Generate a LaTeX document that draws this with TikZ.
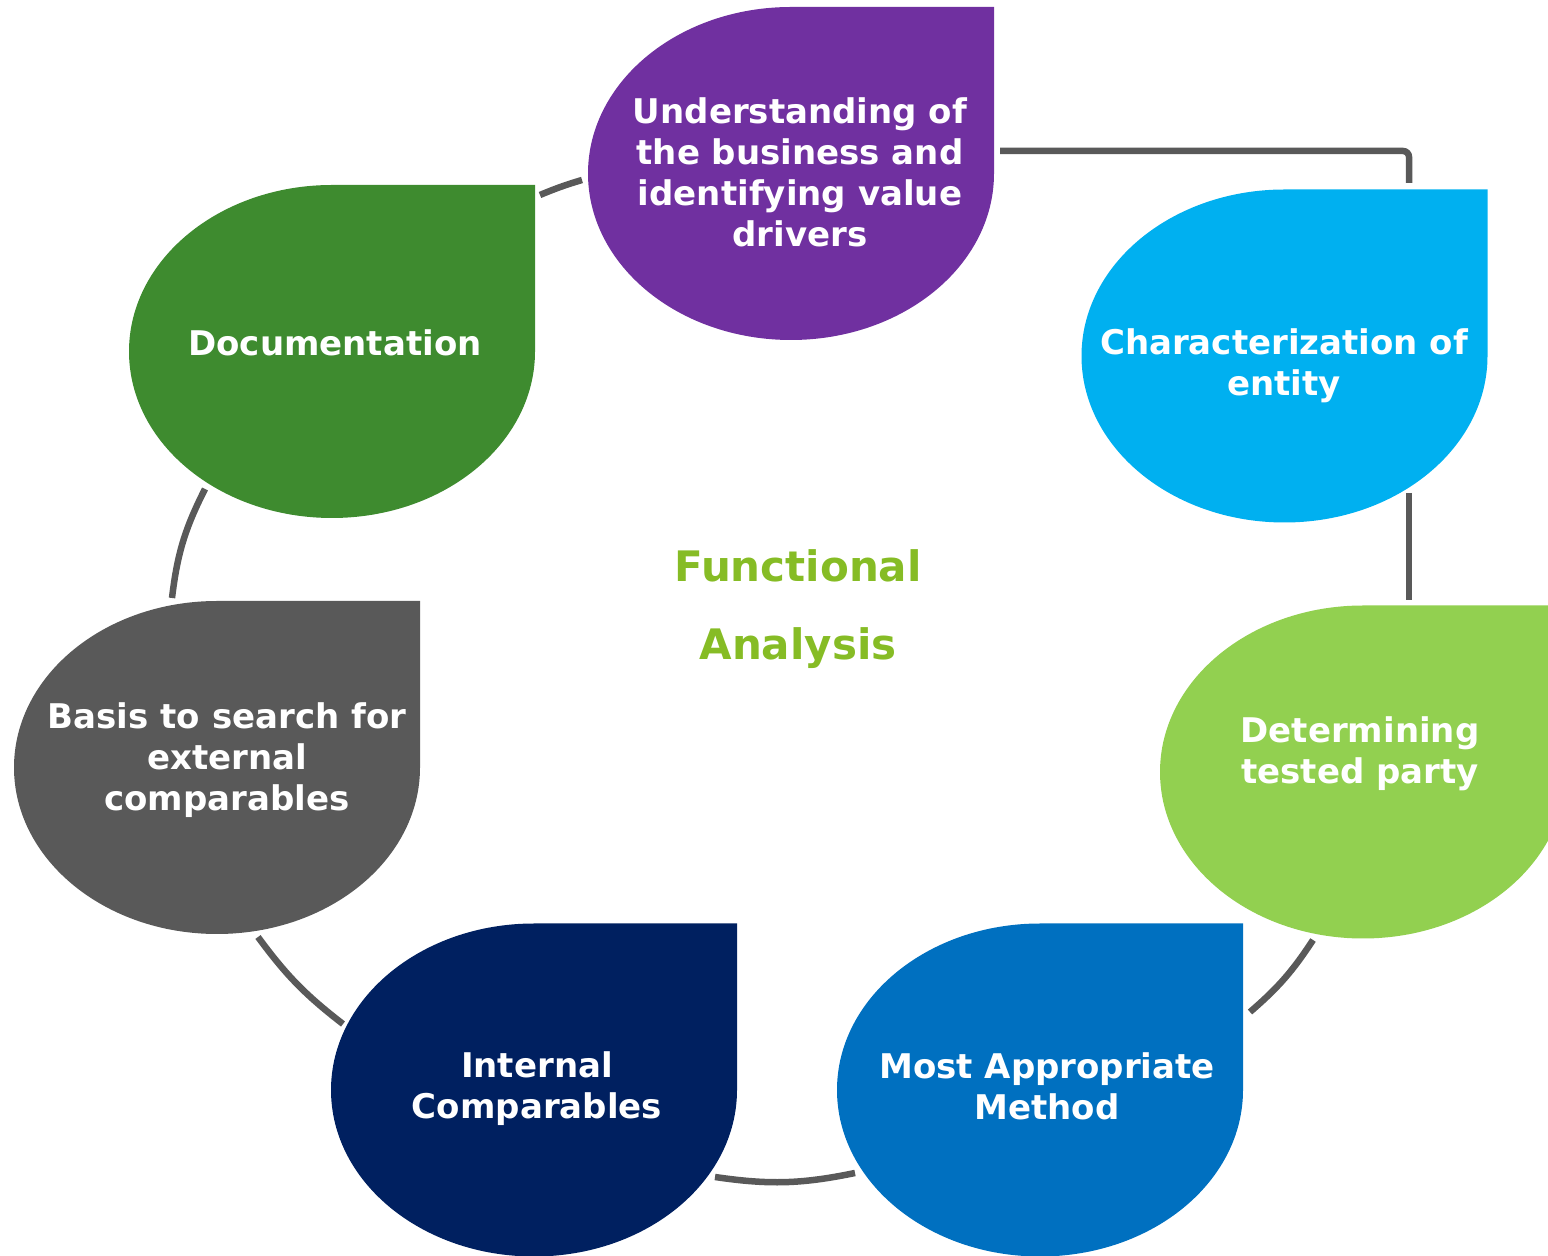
\documentclass[tikz,border=0pt]{standalone}
\usepackage{fontspec}
\setmainfont{DejaVu Sans}
\definecolor{purp}{HTML}{7030A0}
\definecolor{cyanb}{HTML}{00B0F0}
\definecolor{limeg}{HTML}{92D050}
\definecolor{blueb}{HTML}{0070C0}
\definecolor{navyb}{HTML}{002060}
\definecolor{greyb}{HTML}{595959}
\definecolor{docg}{HTML}{3E8B2F}
\definecolor{titleg}{HTML}{86BC25}
\definecolor{linkg}{HTML}{595959}
\tikzset{leaf/.pic={\fill[pic actions] (0,166.5) -- (203,166.5) -- (203,0)
  arc[start angle=0, end angle=-270, x radius=203pt, y radius=166.5pt] -- cycle;}}
\begin{document}
\begin{tikzpicture}[x=1pt, y=1pt,
  leaftext/.style={text=white, align=center, font=\fontsize{34}{41}\selectfont\bfseries},
  link/.style={draw=linkg, line width=6.5pt}]
\useasboundingbox (0,0) rectangle (1548,1256);

% leaves
\pic[fill=purp] at (791,1082.5) {leaf};
\pic[fill=cyanb] at (1284.5,900) {leaf};
\pic[fill=limeg] at (1363,484) {leaf};
\pic[fill=blueb] at (1040,166) {leaf};
\pic[fill=navyb] at (534,166) {leaf};
\pic[fill=greyb] at (217,488.5) {leaf};
\pic[fill=docg] at (332,904.5) {leaf};

\node[leaftext] (biz) at (800,1084) {Understanding of\\the business and\\identifying value\\drivers};
\node[leaftext] (char) at (1284,890) {Characterization of\\entity};
\node[leaftext] (tested) at (1360,502) {Determining\\tested party};
\node[leaftext] (method) at (1047,170) {Most Appropriate\\Method};
\node[leaftext] (internal) at (537,167) {Internal\\Comparables};
\node[leaftext] (external) at (227,496) {Basis to search for\\external\\comparables};
\node[leaftext] (docu) at (335,913) {Documentation};
\node[text=titleg, align=center, font=\fontsize{42}{78}\selectfont\bfseries] (title) at (798,647) {Functional\\Analysis};

% ring
\coordinate (bizR) at (1000,1105);
\coordinate (charT) at (1409,1073);
\coordinate (charB) at (1409,763);
\coordinate (testT) at (1409,656);
\coordinate (testB) at (1313,316);
\coordinate (methR) at (1250,244);
\coordinate (methL) at (855,83);
\coordinate (intR) at (715,79);
\coordinate (intL) at (343,232);
\coordinate (extB) at (258,319);
\coordinate (extT) at (172,658);
\coordinate (docB) at (205,767);
\coordinate (docR) at (540,1061);
\coordinate (bizL) at (582,1076);

\draw[link, rounded corners=6pt](bizR) -| (charT);
\draw[link](charB) -- (testT);
\draw[link](testB) to[bend left=8] (methR);
\draw[link](methL) to[bend left=10] (intR);
\draw[link](intL) to[bend left=8] (extB);
\draw[link](extT) to[bend left=10] (docB);
\draw[link](docR) to[bend left=3] (bizL);

\end{tikzpicture}
\end{document}
